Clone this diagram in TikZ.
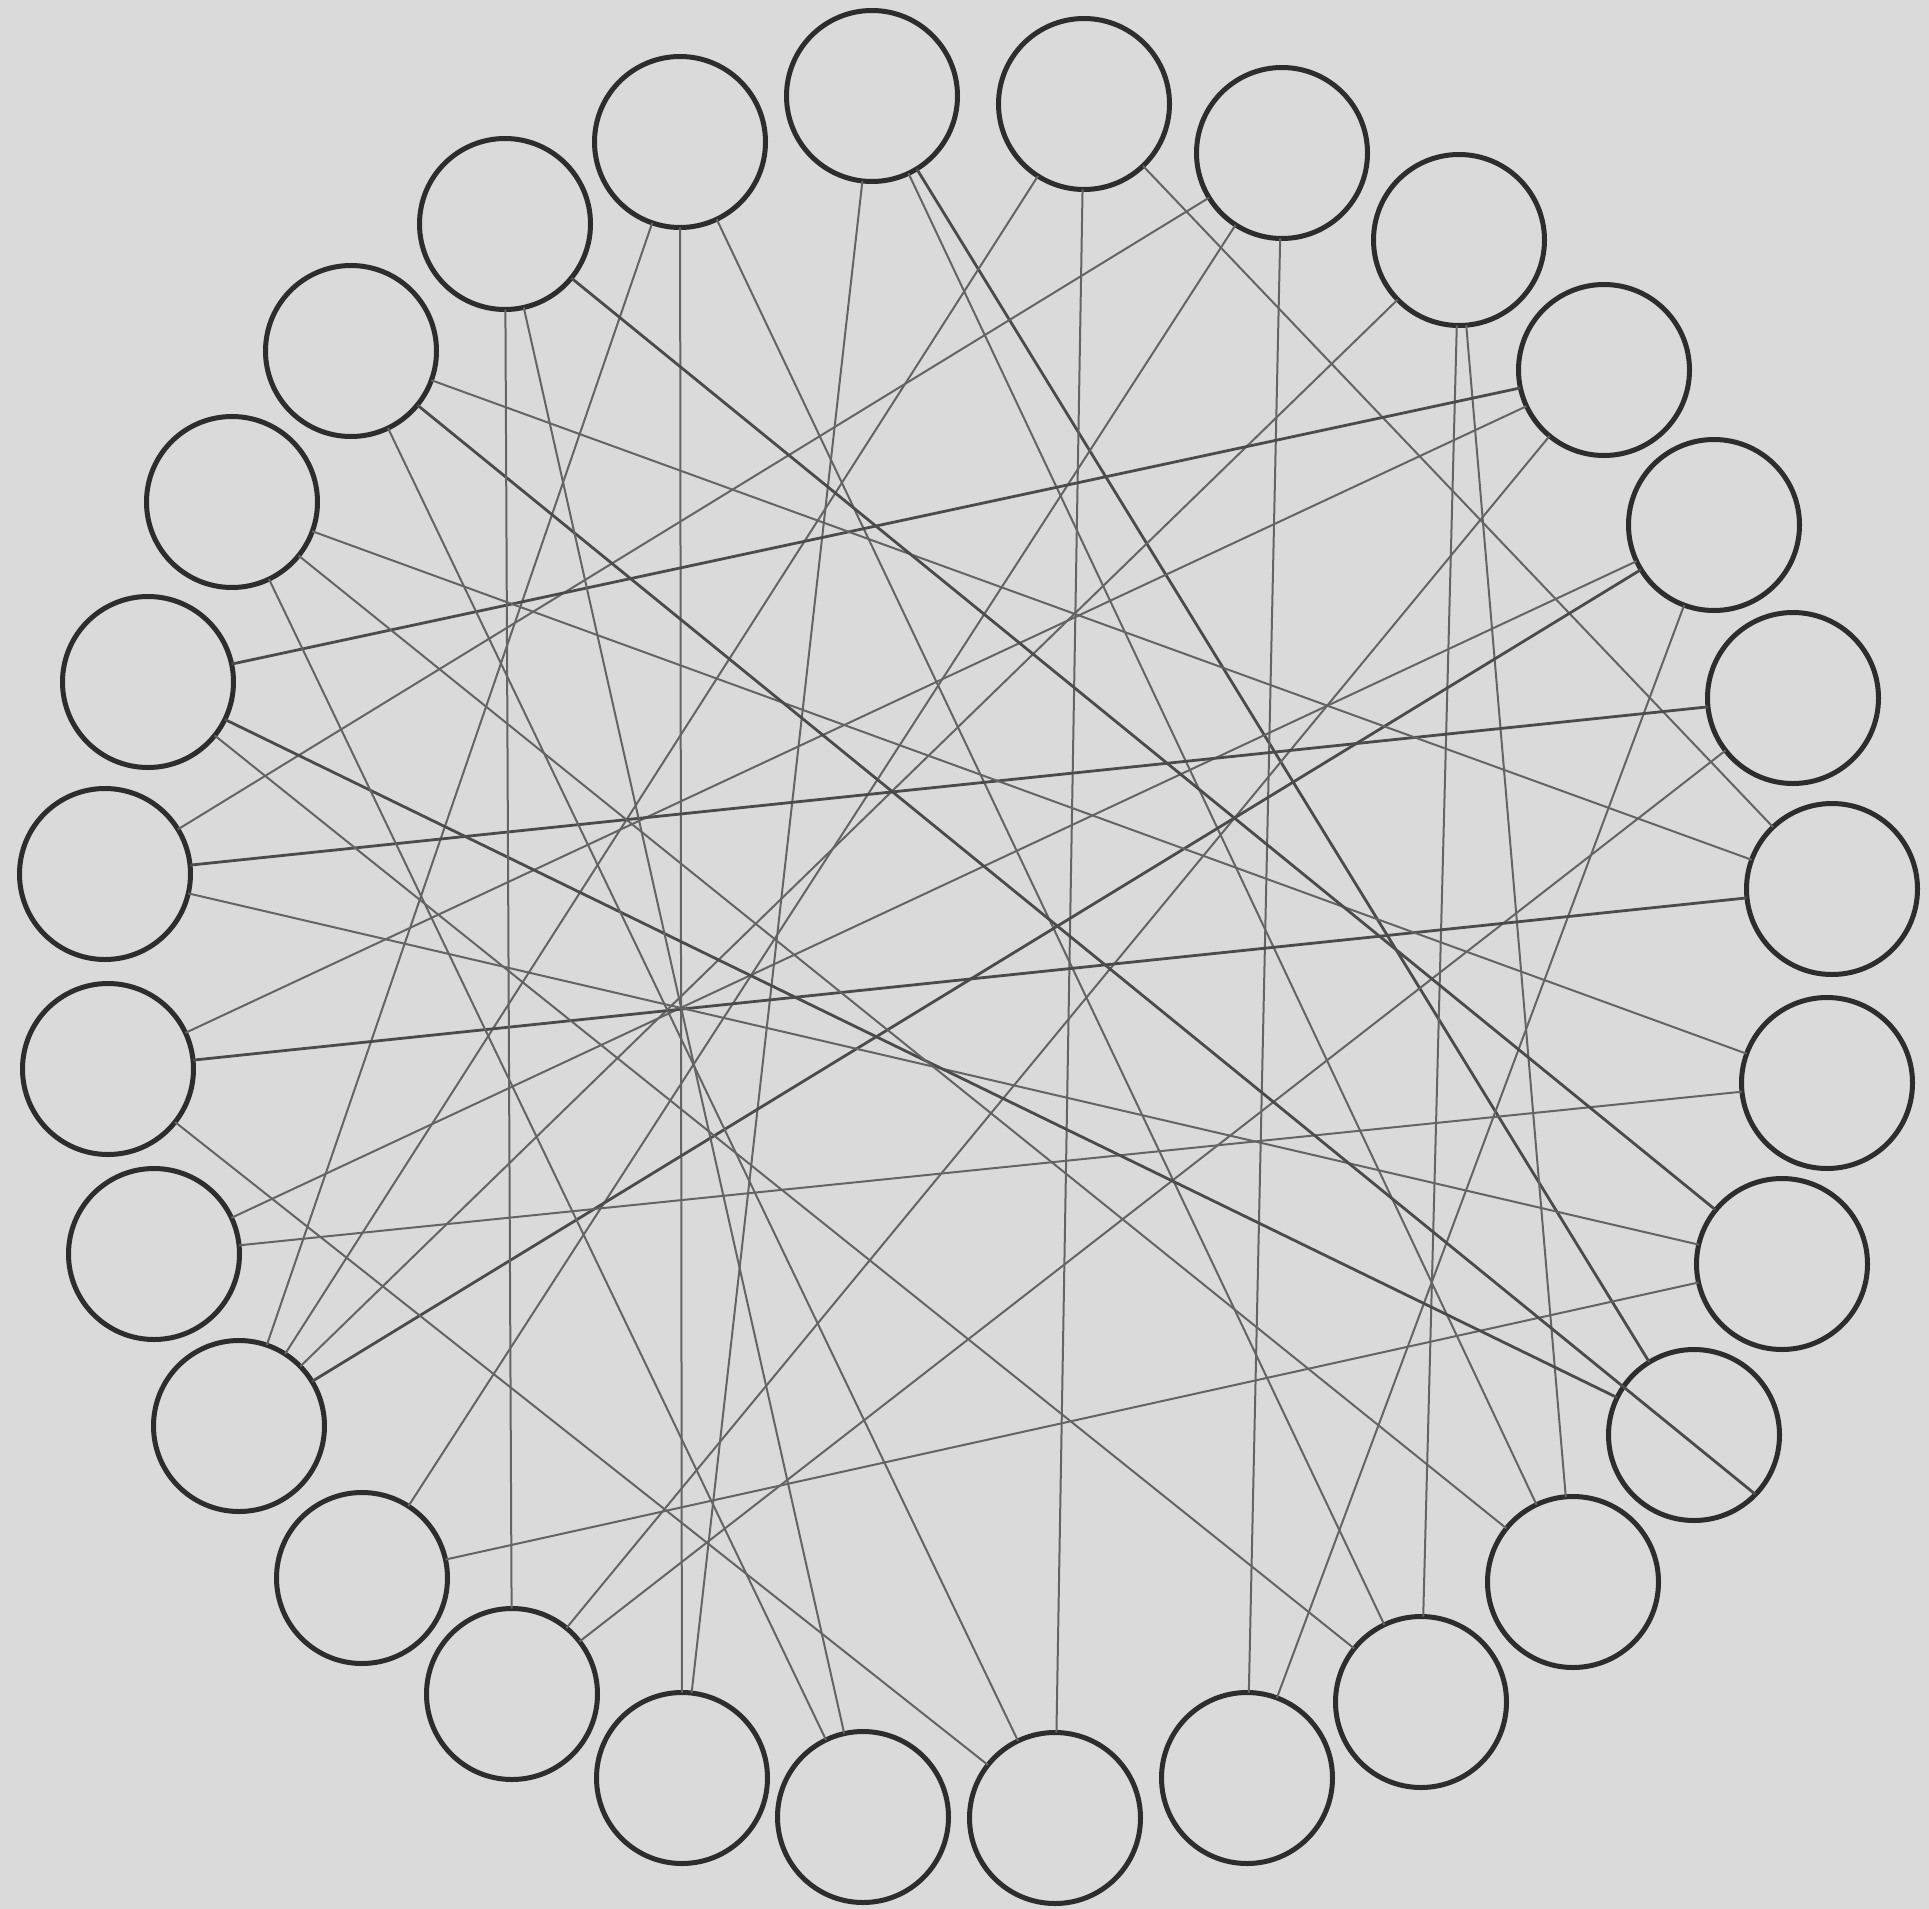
\documentclass[tikz,border=0pt]{standalone}
\usepackage{tikz}
\definecolor{paper}{RGB}{218,218,218}
\definecolor{ink}{RGB}{45,45,45}
\definecolor{pencil}{RGB}{100,100,100}
\tikzset{
  ring/.style={circle,draw=ink,line width=0.5mm,minimum size=17.1mm,inner sep=0pt,outer sep=0pt},
  edge/.style={draw=pencil,line width=0.2mm},
  darkedge/.style={draw=pencil!75!black,line width=0.28mm}
}

\begin{document}
\begin{tikzpicture}[x=0.1mm,y=-0.1mm]
\fill[paper] (0,0) rectangle (1929,1909);

\node[ring] (v1) at (872,96) {};
\node[ring] (v2) at (1084,104) {};
\node[ring] (v3) at (1282,153) {};
\node[ring] (v4) at (1459,240) {};
\node[ring] (v5) at (1604,370) {};
\node[ring] (v6) at (1714,525) {};
\node[ring] (v7) at (1793,698) {};
\node[ring] (v8) at (1832,889) {};
\node[ring] (v9) at (1827,1083) {};
\node[ring] (v10) at (1782,1264) {};
\node[ring] (v11) at (1694,1435) {};
\node[ring] (v12) at (1573,1582) {};
\node[ring] (v13) at (1421,1702) {};
\node[ring] (v14) at (1247,1778) {};
\node[ring] (v15) at (1055,1818) {};
\node[ring] (v16) at (863,1817) {};
\node[ring] (v17) at (682,1778) {};
\node[ring] (v18) at (512,1694) {};
\node[ring] (v19) at (362,1578) {};
\node[ring] (v20) at (239,1426) {};
\node[ring] (v21) at (154,1254) {};
\node[ring] (v22) at (108,1069) {};
\node[ring] (v23) at (105,874) {};
\node[ring] (v24) at (148,682) {};
\node[ring] (v25) at (232,502) {};
\node[ring] (v26) at (351,351) {};
\node[ring] (v27) at (505,224) {};
\node[ring] (v28) at (680,142) {};

\draw[edge] (v28) -- (v20);
\draw[edge] (v28) -- (v17);
\draw[edge] (v28) -- (v13);
\draw[edge] (v1) -- (v17);
\draw[edge] (v1) -- (v12);
\draw[darkedge] (v1) -- (v11);
\draw[edge] (v2) -- (v20);
\draw[edge] (v2) -- (v15);
\draw[edge] (v2) -- (v8);
\draw[edge] (v3) -- (v23);
\draw[edge] (v3) -- (v19);
\draw[edge] (v3) -- (v14);
\draw[edge] (v4) -- (v20);
\draw[edge] (v4) -- (v13);
\draw[edge] (v4) -- (v12);
\draw[darkedge] (v5) -- (v24);
\draw[edge] (v5) -- (v22);
\draw[edge] (v5) -- (v18);
\draw[darkedge] (v6) -- (v20);
\draw[edge] (v6) -- (v21);
\draw[edge] (v6) -- (v14);
\draw[darkedge] (v7) -- (v23);
\draw[edge] (v7) -- (v18);
\draw[edge] (v26) -- (v8);
\draw[darkedge] (v22) -- (v8);
\draw[edge] (v25) -- (v9);
\draw[edge] (v21) -- (v9);
\draw[darkedge] (v27) -- (v10);
\draw[edge] (v23) -- (v10);
\draw[edge] (v19) -- (v10);
\draw[darkedge] (v26) -- (v11.-44);
\draw[darkedge] (v24) -- (v11);
\draw[edge] (v25) -- (v12);
\draw[edge] (v24) -- (v13);
\draw[edge] (v22) -- (v15);
\draw[edge] (v26) -- (v15);
\draw[edge] (v25) -- (v16);
\draw[edge] (v27) -- (v16);
\draw[edge] (v27) -- (v18);
\end{tikzpicture}
\end{document}
